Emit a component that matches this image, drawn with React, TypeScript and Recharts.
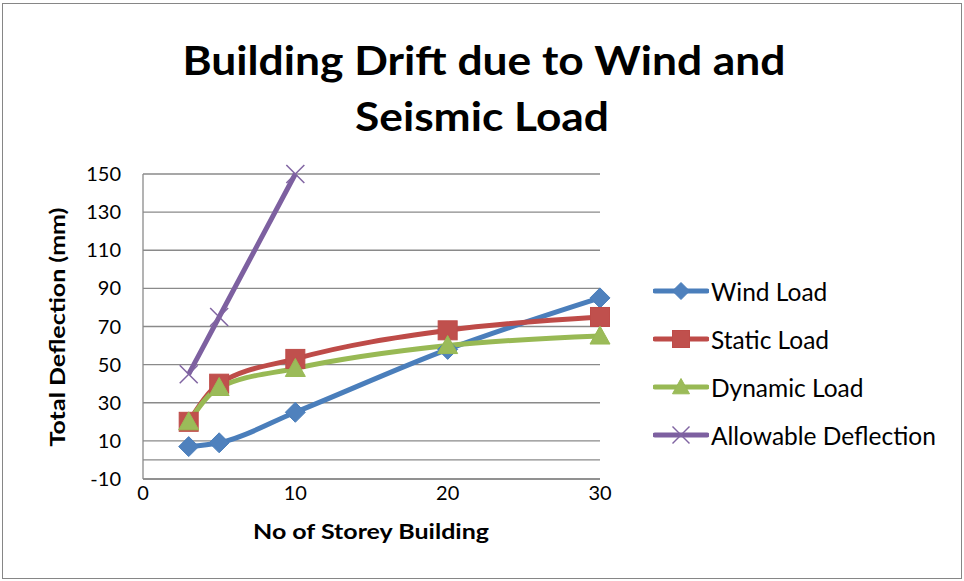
import React from 'react';
import { LineChart, Line, XAxis, YAxis, CartesianGrid, ReferenceLine, Legend, Customized } from 'recharts';

const storeys = [3, 5, 10, 20, 30];
const windLoad = [7, 9, 25, 58, 85];
const staticLoad = [20, 40, 53, 68, 75];
const dynamicLoad = [20, 38, 48, 60, 65];
const allowableStoreys = [3, 5, 10];
const allowableDeflection = [45, 75, 150];
const xTicks = [0, 10, 20, 30];
const yTicks = [-10, 10, 30, 50, 70, 90, 110, 130, 150];

const seriesNames = ['Wind Load', 'Static Load', 'Dynamic Load', 'Allowable Deflection'];
const titleLines = ['Building Drift due to Wind and', 'Seismic Load'];
const xTitle = 'No of Storey Building';
const yTitle = 'Total Deflection (mm)';

const windData = storeys.map((x, i) => ({ x, y: windLoad[i] }));
const staticData = storeys.map((x, i) => ({ x, y: staticLoad[i] }));
const dynamicData = storeys.map((x, i) => ({ x, y: dynamicLoad[i] }));
const allowData = allowableStoreys.map((x, i) => ({ x, y: allowableDeflection[i] }));

const FONT = 'Lato, "Open Sans", sans-serif';
const GRID = '#8a8a8a';

const colors = {
  wind: { line: '#4A7EBB', fill: '#4F81BD' },
  stat: { line: '#BE4B48', fill: '#C0504D' },
  dyn: { line: '#98B954', fill: '#9BBB59' },
  allow: { line: '#7D60A0', fill: '#8064A2' },
};

const Diamond = ({ cx, cy, s = 10 }: any) =>
  cx == null ? null : (
    <polygon points={`${cx},${cy - s} ${cx + s},${cy} ${cx},${cy + s} ${cx - s},${cy}`} fill={colors.wind.fill} stroke={colors.wind.line} strokeWidth={1} />
  );
const Square = ({ cx, cy, s = 9.5 }: any) =>
  cx == null ? null : <rect x={cx - s} y={cy - s} width={2 * s} height={2 * s} fill={colors.stat.fill} stroke={colors.stat.line} strokeWidth={1} />;
const Triangle = ({ cx, cy, s = 10 }: any) =>
  cx == null ? null : (
    <polygon points={`${cx},${cy - s} ${cx + s},${cy + s * 0.8} ${cx - s},${cy + s * 0.8}`} fill={colors.dyn.fill} stroke={colors.dyn.line} strokeWidth={1} />
  );
const Cross = ({ cx, cy, s = 9 }: any) =>
  cx == null ? null : (
    <g stroke={colors.allow.fill} strokeWidth={1.5}>
      <line x1={cx - s} y1={cy - s} x2={cx + s} y2={cy + s} />
      <line x1={cx - s} y1={cy + s} x2={cx + s} y2={cy - s} />
    </g>
  );

const legendShapes: any = {
  'Wind Load': { c: colors.wind.line, M: Diamond },
  'Static Load': { c: colors.stat.line, M: Square },
  'Dynamic Load': { c: colors.dyn.line, M: Triangle },
  'Allowable Deflection': { c: colors.allow.line, M: Cross },
};

const LegendContent = () => (
  <div style={{ fontFamily: FONT, fontSize: 24.5, color: '#000' }}>
    {seriesNames.map((n) => {
      const { c, M } = legendShapes[n];
      return (
        <div key={n} style={{ display: 'flex', alignItems: 'center', height: 48 }}>
          <svg width={56} height={26} style={{ marginRight: 2 }}>
            <line x1={2} y1={13} x2={54} y2={13} stroke={c} strokeWidth={5} strokeLinecap="round" />
            <M cx={28} cy={13} s={8.5} />
          </svg>
          <span>{n}</span>
        </div>
      );
    })}
  </div>
);

const Texts = () => (
  <g fontFamily={FONT} fill="#000">
    <text x={484} y={75} textAnchor="middle" fontSize={40} fontWeight={700} textLength={603} lengthAdjust="spacingAndGlyphs">
      {titleLines[0]}
    </text>
    <text x={482} y={131} textAnchor="middle" fontSize={40} fontWeight={700} textLength={254} lengthAdjust="spacingAndGlyphs">
      {titleLines[1]}
    </text>
    <text x={371} y={539} textAnchor="middle" fontSize={21} fontWeight={700} textLength={236} lengthAdjust="spacingAndGlyphs">
      {xTitle}
    </text>
    <text x={0} y={0} transform="translate(65,327) rotate(-90)" textAnchor="middle" fontSize={21} fontWeight={700} textLength={239} lengthAdjust="spacingAndGlyphs">
      {yTitle}
    </text>
  </g>
);

export default function App() {
  return (
    <div style={{ position: 'absolute', left: 0, top: 0, width: 964, height: 581, background: '#fff' }}>
      <div style={{ position: 'absolute', left: 2, top: 3, width: 958, height: 574, border: '1px solid #868686' }} />
      <LineChart width={964} height={581} margin={{ top: 174, right: 64, bottom: 62, left: 0 }}>
        <CartesianGrid vertical={false} stroke={GRID} strokeWidth={1.3} />
        <XAxis
          dataKey="x"
          type="number"
          domain={[0, 30]}
          ticks={xTicks}
          allowDuplicatedCategory={false}
          height={40}
          tickLine={false}
          tickSize={0}
          tickMargin={7}
          axisLine={{ stroke: GRID, strokeWidth: 1.3 }}
          tick={{ fill: '#000', fontSize: 20, fontFamily: FONT }}
        />
        <YAxis
          type="number"
          domain={[-10, 150]}
          ticks={yTicks}
          width={143}
          tickLine={false}
          tickSize={0}
          tickMargin={22}
          axisLine={{ stroke: GRID, strokeWidth: 1.3 }}
          tick={{ fill: '#000', fontSize: 20, fontFamily: FONT }}
        />
        <ReferenceLine y={0} stroke={GRID} strokeWidth={1.3} />
        <Line data={windData} dataKey="y" name={seriesNames[0]} type="monotone" stroke={colors.wind.line} strokeWidth={5} dot={<Diamond />} isAnimationActive={false} />
        <Line data={staticData} dataKey="y" name={seriesNames[1]} type="monotone" stroke={colors.stat.line} strokeWidth={5} dot={<Square />} isAnimationActive={false} />
        <Line data={dynamicData} dataKey="y" name={seriesNames[2]} type="monotone" stroke={colors.dyn.line} strokeWidth={5} dot={<Triangle />} isAnimationActive={false} />
        <Line data={allowData} dataKey="y" name={seriesNames[3]} type="monotone" stroke={colors.allow.line} strokeWidth={5} dot={<Cross />} isAnimationActive={false} />
        <Legend
          layout="horizontal"
          verticalAlign="middle"
          align="right"
          content={<LegendContent />}
          wrapperStyle={{ position: 'absolute', left: 653, top: 267, width: 300 }}
        />
        <Customized component={Texts} />
      </LineChart>
    </div>
  );
}
